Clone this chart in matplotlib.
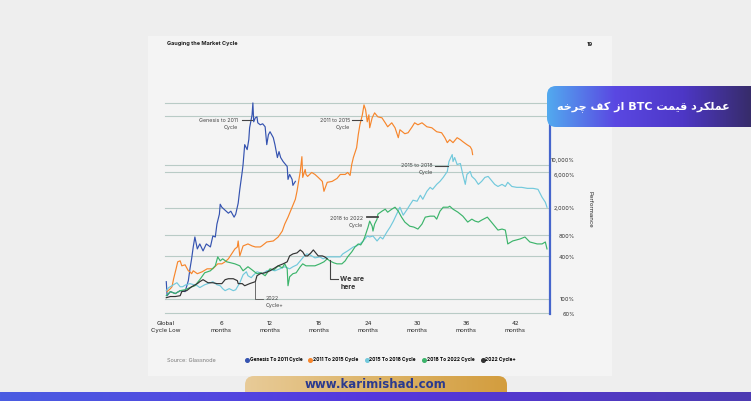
import matplotlib.pyplot as plt
import numpy as np
from matplotlib.patches import FancyBboxPatch, Rectangle
from matplotlib.colors import LinearSegmentedColormap
from matplotlib.lines import Line2D
from matplotlib.transforms import ScaledTranslation

# Values: months since the cycle low, performance in %
genesis_m = [-0.7, -0.6, -0.2, 0.4, 1.0, 1.6, 2.0, 2.2, 2.4, 2.6, 2.8, 3.1, 3.4, 3.8, 4.2, 4.7,
             5.0, 5.3, 5.5, 5.8, 5.9, 6.1, 6.5, 6.9, 7.2, 7.6, 7.8, 8.1, 8.3, 8.6, 8.7, 8.9,
             9.2, 9.4, 9.5, 9.8, 9.9, 10.0, 10.2, 10.4, 10.5, 10.8, 11.1, 11.4, 11.6, 11.8,
             12.0, 12.4, 12.6, 12.9, 13.1, 13.3, 13.6, 13.8, 14.1, 14.2, 14.4, 14.7, 14.8, 15.1]
genesis_pct = [175, 110, 126, 118, 130, 126, 181, 268, 373, 553, 769, 518, 611, 485, 611, 553,
               795, 769, 1179, 1638, 2276, 2062, 1867, 1692, 1807, 1484, 1638, 2353, 3728, 6739, 8483, 16379,
               13895, 19307, 28650, 43940, 65210, 34900, 39811, 41142, 33767, 31623, 32674, 29610, 16379, 22758,
               25118, 20618, 16379, 10681, 13008, 10681, 9363, 8767, 7943, 5179, 6105, 5179, 4252, 4850]

c2011_m = [-0.6, -0.2, 0.0, 0.2, 0.5, 0.7, 1.0, 1.2, 1.6, 2.0, 2.2, 2.4, 2.6, 3.1, 3.7, 4.3,
           5.0, 5.6, 6.1, 6.5, 6.9, 7.3, 7.7, 8.0, 8.1, 8.3, 8.7, 9.3, 9.8, 10.2, 10.8, 11.0,
           11.6, 12.4, 13.0, 13.5, 13.8, 14.2, 14.7, 15.1, 15.3, 15.7, 15.9, 16.0, 16.3, 16.4,
           16.6, 17.1, 17.5, 17.9, 18.4, 18.6, 19.0, 19.6, 20.2, 20.6, 21.2, 21.5, 21.8, 22.0,
           22.2, 22.6, 22.8, 23.0, 23.3, 23.5, 23.7, 23.9, 24.1, 24.2, 24.5, 24.8, 25.2, 25.7,
           26.1, 26.4, 26.9, 27.3, 27.7, 27.9, 28.5, 28.9, 29.4, 29.7, 30.1, 30.6, 31.2, 31.8,
           32.4, 33.0, 33.4, 33.7, 34.0, 34.4, 34.9, 35.3, 35.6, 36.1, 36.5, 36.7, 36.8]
c2011_pct = [126, 139, 148, 193, 268, 338, 349, 296, 306, 251, 243, 228, 251, 228, 243, 268,
             268, 316, 316, 338, 373, 439, 518, 553, 674, 411, 572, 611, 572, 553, 553, 572,
             652, 674, 769, 936, 1179, 1484, 2062, 2683, 3490, 6739, 11000, 5532, 7197, 6105,
             5717, 6520, 6105, 5532, 4850, 3490, 4700, 4850, 5350, 6105, 6105, 6520, 5907, 8483,
             10681, 14840, 22758, 31623, 43940, 61054, 51795, 34900, 43940, 28650, 39811, 46930, 41142, 39811,
             33767, 29610, 33767, 28650, 20618, 26827, 23521, 24300, 29610, 33767, 31623, 33767, 29610, 28650,
             25118, 24300, 20618, 17500, 19307, 17500, 20618, 19307, 18080, 16379, 15300, 13895, 11788]

c2015_m = [-0.7, -0.4, 0.0, 0.4, 0.6, 1.0, 1.3, 1.7, 2.2, 2.7, 3.1, 3.4, 4.0, 4.7, 5.0, 5.5,
           5.9, 6.2, 6.5, 7.0, 7.5, 7.8, 8.3, 8.7, 9.1, 9.3, 9.7, 9.9, 10.4, 10.8, 11.1, 11.6,
           12.1, 12.6, 13.2, 13.8, 14.4, 14.8, 15.3, 15.7, 16.2, 16.5, 16.9, 17.5, 18.1, 18.5,
           19.0, 19.7, 20.6, 20.9, 21.5, 22.2, 22.6, 23.0, 23.4, 23.9, 24.2, 24.6, 25.1, 25.5,
           25.8, 26.3, 26.7, 27.1, 27.5, 27.9, 28.3, 28.8, 29.1, 29.5, 30.0, 30.4, 30.7, 31.2,
           31.6, 31.9, 32.4, 32.8, 33.2, 33.7, 33.9, 34.3, 34.4, 34.6, 34.9, 35.3, 35.6, 35.9,
           36.1, 36.5, 36.7, 37.1, 37.5, 37.9, 38.3, 38.7, 39.2, 39.5, 39.9, 40.4, 40.8, 41.1,
           41.6, 42.2, 42.8, 43.5, 44.2, 44.8, 45.3, 45.7, 45.9]
c2015_pct = [130, 144, 153, 164, 169, 148, 148, 158, 164, 158, 153, 144, 158, 169, 175, 158,
             153, 139, 130, 139, 130, 134, 169, 220, 243, 213, 200, 213, 243, 235, 228, 251,
             259, 251, 268, 287, 268, 287, 306, 349, 411, 439, 425, 385, 398, 373,
             398, 398, 398, 439, 485, 553, 572, 611, 674, 795, 769, 795, 674, 769,
             720, 906, 1068, 1301, 1638, 2062, 1585, 1931, 2203, 2600, 2512, 3061, 2683, 3490,
             3981, 3728, 4394, 4850, 5532, 6739, 9363, 11788, 9363, 10681, 8483, 8767, 6105, 4394,
             6105, 6739, 5717, 5179, 4394, 4850, 5532, 5717, 4850, 4394, 4100, 4394, 4100, 4700,
             4100, 3981, 3981, 3850, 3850, 3728, 2865, 2431, 2062]

c2018_m = [-0.7, -0.2, 0.4, 1.0, 1.6, 2.2, 2.8, 3.4, 4.0, 4.7, 5.3, 5.6, 5.9, 6.2, 6.7, 7.2,
           7.7, 8.3, 8.7, 9.3, 9.8, 10.4, 10.9, 11.4, 12.0, 12.5, 13.0, 13.5, 13.8, 14.1,
           14.2, 14.4, 14.8, 15.2, 15.7, 16.0, 16.4, 16.9, 17.5, 18.1, 18.6, 19.0, 19.3, 19.8,
           20.2, 20.8, 21.2, 21.5, 22.0, 22.4, 22.8, 23.1, 23.4, 23.6, 24.0, 24.2, 24.5, 24.6,
           24.8, 25.1, 25.2, 25.7, 26.1, 26.4, 26.9, 27.3, 27.7, 28.1, 28.5, 29.1, 29.6, 30.1,
           30.6, 31.0, 31.6, 32.1, 32.4, 32.8, 33.2, 33.8, 34.0, 34.4, 35.0, 35.6, 36.2, 36.7,
           37.1, 37.5, 37.9, 38.6, 38.9, 39.3, 39.9, 40.4, 40.8, 41.0, 41.1, 41.7, 42.6, 43.2,
           43.8, 44.7, 45.3, 45.7, 45.9]
c2018_pct = [110, 126, 118, 130, 134, 144, 153, 187, 235, 251, 296, 398, 349, 373, 338, 327,
             316, 296, 251, 287, 259, 228, 235, 213, 268, 259, 296, 277, 316, 268,
             153, 206, 228, 235, 287, 316, 296, 296, 296, 316, 338, 373, 349, 327,
             316, 316, 349, 398, 469, 553, 611, 591, 674, 769, 1068, 1301, 1100, 936,
             1179, 1389, 1638, 1807, 1931, 1748, 1931, 2062, 1807, 1484, 1260, 1100, 1068, 1000,
             1179, 1484, 1533, 1533, 1389, 1807, 2062, 2062, 2130, 1931, 1748, 1533, 1260, 1389,
             1301, 1260, 1345, 1484, 1345, 1179, 967, 1000, 967, 720, 611, 674, 720, 769,
             652, 611, 611, 652, 518]

c2022_m = [-0.7, -0.2, 0.4, 1.0, 1.2, 1.8, 2.4, 3.1, 3.4, 3.8, 4.0, 4.4, 5.0, 5.5, 6.1, 6.5,
           6.9, 7.5, 8.0, 8.1, 8.6, 8.9, 9.5, 10.2, 10.4, 10.8, 11.4, 12.0, 12.6, 13.0, 13.6,
           14.1, 14.4, 14.8, 15.3, 15.7, 16.0, 16.3, 16.6, 17.0, 17.3, 17.5, 17.9, 18.4, 18.7, 19.0]
c2022_pct = [103, 107, 107, 110, 126, 130, 148, 164, 175, 187, 181, 169, 169, 164, 164, 187,
             193, 193, 181, 164, 164, 153, 164, 175, 213, 228, 235, 251, 277, 296, 316,
             338, 411, 439, 454, 501, 469, 411, 411, 454, 501, 469, 411, 411, 398, 373]

series_m = [genesis_m, c2011_m, c2015_m, c2018_m, c2022_m]
series_pct = [genesis_pct, c2011_pct, c2015_pct, c2018_pct, c2022_pct]
series_names = ['Genesis To 2011 Cycle', '2011 To 2015 Cycle', '2015 To 2018 Cycle',
                '2018 To 2022 Cycle', '2022 Cycle+']
colors = ['#3553b0', '#f7862c', '#72c9dc', '#3cb46b', '#333333']

ytick_vals = [60, 100, 400, 800, 2000, 6000, 10000]
grid_levels = [63, 100, 411, 820, 1995, 6520, 8480, 42500, 65000]
xtick_vals = [0, 6, 12, 18, 24, 30, 36, 42]
xtick_labels = ['Global\nCycle Low'] + ['%d\nmonths' % m for m in xtick_vals[1:]]

W, H = 751, 401
FONT = 'Inter'
fig = plt.figure(figsize=(W / 100, H / 100), dpi=100)
fig.patch.set_facecolor('#eeeeee')

# light page panel behind the chart
fig.patches.append(Rectangle((148 / W, 1 - 376 / H), 464 / W, 340 / H, transform=fig.transFigure,
                             facecolor='#f4f4f4', edgecolor='none', zorder=-5))

ax = fig.add_axes([165 / W, 1 - 314 / H, 385 / W, 219 / H])
ax.patch.set_alpha(0)
ax.set_yscale('log')
ax.set_ylim(63.1, 84800)
ax.set_xlim(-0.857, 46.27)
for s in ['top', 'left', 'bottom']:
    ax.spines[s].set_visible(False)
ax.spines['right'].set_color('#4565cc')
ax.spines['right'].set_linewidth(1.6)

for lv in grid_levels:
    ax.axhline(lv, color='#b9cbc6', lw=0.8, zorder=0, clip_on=False)

for m, p, c in zip(series_m, series_pct, colors):
    ax.plot(m, p, color=c, lw=0.85, zorder=3)

ax.yaxis.tick_right()
ax.minorticks_off()
ax.set_yticks(ytick_vals)
ax.set_yticklabels(['{:,}%'.format(v) for v in ytick_vals], fontsize=4, family=FONT, color='#333333')
for t in ax.get_yticklabels():
    t.set_horizontalalignment('right')
ax.tick_params(axis='y', length=0, pad=18)
ax.set_xticks(xtick_vals)
ax.set_xticklabels(xtick_labels, fontsize=4.3, family=FONT, color='#222222', linespacing=1.5)
ax.tick_params(axis='x', length=0, pad=5)
lbl0 = ax.get_xticklabels()[0]
lbl0.set_transform(lbl0.get_transform() + ScaledTranslation(-6 / 100, 0, fig.dpi_scale_trans))

ax.text(1.105, 0.48, 'Performance', transform=ax.transAxes, rotation=270, fontsize=4.3,
        family=FONT, color='#222222', ha='center', va='center')

# cycle annotations
ann = dict(fontsize=3.8, family=FONT, color='#444444', ha='right', va='center', linespacing=1.6)
lead = dict(color='#444444', lw=0.8, zorder=4)
ax.text(8.1, 32700, 'Genesis to 2011\nCycle', multialignment='right', **ann)
ax.plot([8.6, 9.8], [37300, 37300], **lead)
ax.text(21.8, 32700, '2011 to 2015\nCycle', multialignment='right', **ann)
ax.plot([22.0, 23.3], [37300, 37300], **lead)
ax.text(31.9, 7310, '2015 to 2018\nCycle', multialignment='right', **ann)
ax.plot([32.2, 33.8], [8200, 8200], **lead)
ax.text(23.4, 1260, '2018 to 2022\nCycle', multialignment='right', **ann)
ax.plot([23.9, 25.2], [1484, 1484], color='#444444', lw=1.3, zorder=4)

ax.plot([19.3, 19.3, 20.3], [361, 193, 193], **lead)
ax.text(20.6, 168, 'We are\nhere', fontsize=5, family=FONT, weight='bold', color='#333333',
        ha='left', va='center', linespacing=1.3)
ax.plot([10.2, 10.2, 11.1], [175, 100, 100], color='#555555', lw=0.6, zorder=4)
ax.text(11.5, 89, '2022\nCycle+', fontsize=3.8, family=FONT, color='#444444',
        ha='left', va='center', linespacing=1.6)

# page header and source line
fig.text(167 / W, 1 - 44 / H, 'Gauging the Market Cycle', fontsize=4, family=FONT, weight='bold',
         color='#222222', va='center')
fig.text(590 / W, 1 - 44 / H, '19', fontsize=4, family=FONT, weight='bold', color='#222222',
         va='center', ha='center')
fig.text(167 / W, 1 - 360 / H, 'Source: Glassnode', fontsize=4, family=FONT, color='#7a7a7a', va='center')

handles = [Line2D([], [], marker='o', ls='', color=c, ms=2.6) for c in colors]
fig.legend(handles, series_names, loc='center left', bbox_to_anchor=(243 / W, 1 - 360 / H), ncol=5,
           frameon=False, handlelength=0.6, handletextpad=0.25, columnspacing=1.4, borderpad=0,
           prop={'family': FONT, 'weight': 'bold', 'size': 3.5})

# title banner (Persian text in presentation forms, visual order)
banner_txt = ('\uFEEA\uFEA7\uFEAE\uFB7C \uFED2\uFB90 \uFEAF\uFE8D BTC '
              '\uFE96\uFEE4\uFBFF\uFED7 \uFEA9\uFEAE\uFB91\uFEE0\uFEE4\uFECB')
bax = fig.add_axes([547 / W, 1 - 127 / H, 204 / W, 41 / H])
bax.set_zorder(6)
bax.set_xlim(0, 204)
bax.set_ylim(0, 41)
bax.axis('off')
bcmap = LinearSegmentedColormap.from_list('ban', ['#52aaef', '#5a48e2', '#4d37c6', '#372c6a'])
grad = np.linspace(0, 1, 256).reshape(1, -1)
im = bax.imshow(grad, extent=[0, 204, 0, 41], aspect='auto', cmap=bcmap)
bpatch = FancyBboxPatch((0, 0), 230, 41, boxstyle='round,pad=0,rounding_size=9',
                        facecolor='none', edgecolor='none')
bax.add_patch(bpatch)
im.set_clip_path(bpatch)
bax.text(96, 20, banner_txt, color='white', fontsize=8, weight='bold',
         family=['DejaVu Sans'], ha='center', va='center')

# website pill and bottom bar
pax = fig.add_axes([245 / W, 0, 262 / W, 25 / H])
pax.set_zorder(4)
pax.set_xlim(0, 262)
pax.set_ylim(0, 25)
pax.axis('off')
pcmap = LinearSegmentedColormap.from_list('pill', ['#e8cb98', '#ddb468', '#d39d3e'])
im2 = pax.imshow(grad, extent=[0, 262, 0, 25], aspect='auto', cmap=pcmap)
ppatch = FancyBboxPatch((0, -15), 262, 40, boxstyle='round,pad=0,rounding_size=9',
                        facecolor='none', edgecolor='none')
pax.add_patch(ppatch)
im2.set_clip_path(ppatch)
pax.text(130, 16.5, 'www.karimishad.com', color='#2b3a8e', fontsize=8.5, weight='bold',
         family='DejaVu Sans', ha='center', va='center')

barax = fig.add_axes([0, 0, 1, 9 / H])
barax.set_zorder(5)
barax.axis('off')
barcmap = LinearSegmentedColormap.from_list('bar', ['#4b5de2', '#5637de', '#4d3bb2'])
barax.imshow(grad, extent=[0, 1, 0, 1], aspect='auto', cmap=barcmap)
barax.set_xlim(0, 1)
barax.set_ylim(0, 1)

fig.savefig('out.png', dpi=100, facecolor=fig.get_facecolor())
